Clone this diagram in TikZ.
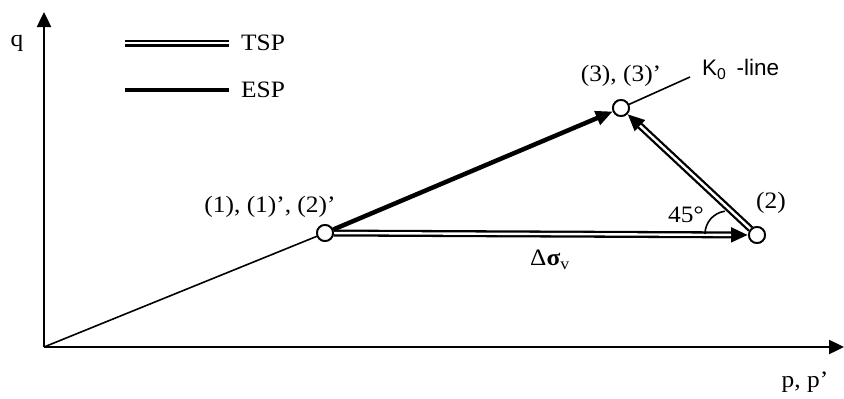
\documentclass[tikz,border=0pt]{standalone}
\usepackage{fontspec}
\setmainfont{Liberation Serif}
\newfontfamily\arialfont{Liberation Sans}
\usetikzlibrary{arrows.meta}
\newcommand{\widetxt}[1]{\scalebox{1.08}[1]{#1}}
\tikzset{
  axis/.style={line width=2.4pt, -{Triangle[length=15pt,width=14pt]}},
  pt/.style={circle, draw, line width=1.8pt, fill=white, minimum size=16pt, inner sep=0pt},
  esp/.style={line width=4.5pt, -{Triangle[length=17pt,width=14pt]}},
  tsp/.style={line width=7pt, -{Triangle[length=17pt,width=14pt]},
    postaction={draw=white, line width=2.4pt, -, shorten >=17pt}},
  tspline/.style={line width=7pt, postaction={draw=white, line width=2.4pt}},
  lbl/.style={font=\fontsize{23.5}{25}\selectfont, inner sep=0pt},
  k0/.style={line width=1.6pt},
}
\begin{document}
\begin{tikzpicture}[x=1pt,y=-1pt]
\useasboundingbox (0,0) rectangle (844,399);
% axes
\coordinate (O) at (44,347);
\coordinate (qtop) at (44,12);
\coordinate (ptop) at (844,347);
\draw[axis] (O) -- (qtop);
\draw[axis] (O) -- (ptop);
\node[lbl] (qlab) at (17,43) {\widetxt{q}};
\node[lbl] (plab) at (805,382) {\widetxt{p, p'}};
% legend
\coordinate (l1a) at (125,43);
\coordinate (l1b) at (229,43);
\coordinate (l2a) at (125,90);
\coordinate (l2b) at (229,90);
\draw[tspline] (l1a) -- (l1b);
\draw[line width=4.5pt] (l2a) -- (l2b);
\node[lbl, anchor=west] (tsplab) at (241,43) {\widetxt{TSP}};
\node[lbl, anchor=west] (esplab) at (241,90) {\widetxt{ESP}};
% points
\node[pt] (n1) at (325,233) {};
\node[pt] (n2) at (757,235) {};
\node[pt] (n3) at (621,108) {};
\coordinate (k0end) at (690,77);
% K0 line
\draw[k0] (O) -- (n1);
\draw[k0] (n3) -- (k0end);
% paths
\draw[esp] (n1) -- (n3);
\draw[tsp] (n1) -- (n2);
\draw[tsp] (n2) -- (n3);
\node[pt] at (n1) {};
\node[pt] at (n2) {};
\node[pt] at (n3) {};
% angle arc
\draw[line width=1.6pt] (705,234) arc[start angle=180, end angle=262, radius=23];
% labels
\node[lbl] (l1) at (270,207) {\widetxt{(1), (1)', (2)'}};
\node[lbl] (l2) at (771,203) {\widetxt{(2)}};
\node[lbl] (l3) at (621,76) {\widetxt{(3), (3)'}};
\node[lbl] (l45) at (686,215) {\widetxt{45°}};
\node[lbl] (ds) at (550,260) {\widetxt{Δ\textbf{σ}\textsubscript{v}}};
\node[inner sep=0pt, anchor=west, font=\arialfont\fontsize{22.5}{24}\selectfont] (k0lab) at (702,69) {K\textsubscript{0}\hspace{4pt} -line};
\end{tikzpicture}
\end{document}
